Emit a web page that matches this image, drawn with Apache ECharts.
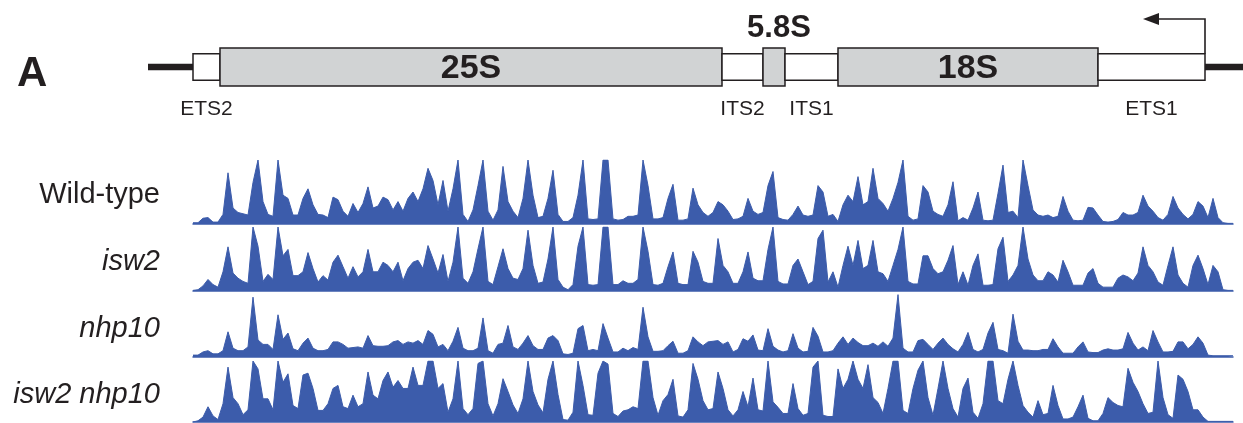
<!DOCTYPE html>
<html><head><meta charset="utf-8">
<script src="https://cdn.jsdelivr.net/npm/echarts@6/dist/echarts.min.js"></script>
<style>html,body{margin:0;padding:0;background:#fff}#c{width:1243px;height:423px}</style>
</head><body><div id="c"></div>
<script>
// ---- data (relative signal 0-100, 5-px bins) ----
const trackNames = ['Wild-type', 'isw2', 'nhp10', 'isw2 nhp10'];
const trackItalic = [false, true, true, true];

const wildType = [
2,2,9,10,3,3,15,80,25,18,
16,14,65,100,35,15,12,100,45,40,
14,14,40,55,30,15,14,10,42,38,
20,12,32,18,32,58,25,28,42,38,
22,35,20,40,50,35,55,87,68,30,
68,20,55,100,15,4,22,60,100,20,
6,22,90,35,20,10,40,100,45,10,
12,40,84,15,4,4,10,45,100,8,
7,8,100,100,8,6,7,12,12,14,
100,60,8,8,10,40,62,6,6,8,
56,30,18,12,18,35,30,20,7,8,
12,40,20,15,18,60,82,10,7,6,
15,28,14,12,14,60,50,12,15,4,
30,45,35,74,30,35,87,40,32,20,
40,65,100,12,6,8,60,50,20,15,
12,30,66,5,10,6,25,50,6,5,
6,48,92,18,20,10,100,60,22,14,
12,14,10,12,43,20,6,5,6,26,
25,14,4,3,4,7,18,14,14,18,
45,28,20,10,6,15,43,25,15,8,
15,35,28,10,40,10,2,1,1
];
const isw2 = [
1,2,8,18,10,6,30,69,28,20,
15,12,100,70,15,26,18,100,55,65,
24,24,30,60,35,14,24,17,45,56,
38,20,38,22,30,65,30,30,45,40,
30,45,16,35,45,48,35,71,50,28,
57,15,45,100,20,12,30,66,100,15,
10,38,66,35,20,18,35,95,40,12,
14,50,100,18,6,2,10,70,100,10,
9,10,100,100,10,10,16,12,12,18,
100,62,10,9,12,38,61,12,10,10,
62,45,15,12,12,82,40,30,12,12,
30,61,20,16,16,65,100,15,11,11,
40,50,30,10,15,82,95,14,30,6,
40,70,40,79,35,40,79,30,27,15,
40,65,100,15,11,11,55,55,35,27,
30,48,71,10,30,9,40,58,9,9,
10,66,84,15,25,40,100,50,25,16,
16,30,25,14,48,30,9,9,9,28,
35,12,6,6,6,20,25,22,16,28,
69,40,30,14,9,40,69,25,12,6,
40,56,35,10,40,30,2,1,1
];
const nhp10 = [
3,3,8,10,5,5,10,40,14,10,
10,16,95,27,20,20,12,67,28,38,
13,10,22,30,14,10,10,12,24,24,
20,14,15,16,14,34,18,17,17,18,
24,26,20,24,22,26,20,42,36,16,
20,10,25,47,14,10,10,14,62,10,
6,20,22,50,16,12,22,34,18,12,
12,30,34,26,5,4,6,45,50,10,
12,10,53,30,8,8,14,10,15,12,
79,32,9,9,10,18,25,6,6,10,
32,24,18,24,25,26,20,24,8,12,
29,25,35,11,10,45,17,11,8,10,
37,14,8,9,47,33,8,8,10,22,
32,20,30,23,18,18,22,17,24,17,
30,99,14,8,8,26,28,20,12,22,
30,20,13,8,20,39,12,8,12,38,
55,12,10,6,68,25,11,11,10,10,
12,12,29,16,6,6,6,16,24,8,
7,7,11,13,11,11,13,39,22,11,
16,10,42,24,8,8,9,24,24,13,
20,32,22,3,2,2,2,2,2
];
const isw2Nhp10 = [
0,2,8,25,10,4,30,90,40,30,
12,20,100,87,38,38,20,100,65,79,
27,22,77,80,55,19,19,30,55,60,
25,22,44,25,30,82,44,38,68,82,
57,68,55,55,90,60,60,100,100,55,
63,16,38,100,22,12,22,96,100,30,
10,30,71,50,28,14,38,100,50,28,
15,70,100,45,4,3,16,100,60,12,
11,80,100,95,14,9,18,20,25,22,
100,100,40,11,35,45,70,10,8,20,
96,70,35,20,22,82,55,20,10,20,
50,25,72,20,18,100,33,24,14,14,
63,22,11,14,90,100,11,9,9,87,
55,70,100,70,55,94,40,32,14,55,
100,100,19,14,55,85,100,40,11,55,
100,55,22,8,55,72,16,6,30,100,
100,35,30,70,100,60,27,16,8,35,
12,14,60,27,5,5,8,25,44,6,
2,2,14,40,32,27,25,88,65,50,
30,14,16,100,40,12,6,77,70,50,
20,20,8,1,1,1,1,1,1
];
const bins = wildType.map((_, i) => i);

// rDNA unit diagram, in bin units
const segStart = [-9, 0, 5.4, 105.8, 114, 118.4, 129, 181, 202.4];
const segEnd   = [0, 5.4, 105.8, 114, 118.4, 129, 181, 202.4, 210];
const segKind  = ['flank', 'spacer', 'gene', 'spacer', 'gene', 'spacer', 'gene', 'spacer', 'flank'];
const segLabel = ['', 'ETS2', '25S', 'ITS2', '5.8S', 'ITS1', '18S', 'ETS1', ''];
const panelLetter = 'A';

// ---- chart ----
const BLUE = '#3C5CAB';
const INK = '#231F20';
const FONT = '"Liberation Sans", Arial, Helvetica, sans-serif';
const tracks = [wildType, isw2, nhp10, isw2Nhp10];
const trackBox = [
  {top: 160, height: 64}, {top: 227, height: 64}, {top: 294, height: 63}, {top: 361, height: 61}
];

const grids = trackBox.map(b => ({left: 193, width: 1040, top: b.top, height: b.height}));
grids.push({left: 148, width: 1095, top: 48, height: 38});

const xAxes = tracks.map((_, i) => ({
  gridIndex: i, type: 'category', data: bins, boundaryGap: false,
  axisLine: {show: true, lineStyle: {color: BLUE, width: 1.5}},
  axisTick: {show: false}, axisLabel: {show: false}, splitLine: {show: false}
}));
xAxes.push({gridIndex: 4, type: 'value', min: -9, max: 210, show: false});
const yAxes = tracks.map((_, i) => ({gridIndex: i, type: 'value', min: 0, max: 100, show: false}));
yAxes.push({gridIndex: 4, type: 'value', min: -1, max: 1, show: false});

const series = tracks.map((d, i) => ({
  type: 'line', xAxisIndex: i, yAxisIndex: i, data: d, symbol: 'none', showSymbol: false,
  lineStyle: {color: BLUE, width: 1}, areaStyle: {color: BLUE, opacity: 1},
  itemStyle: {color: BLUE}, silent: true, animation: false
}));

series.push({
  type: 'custom', xAxisIndex: 4, yAxisIndex: 4, clip: false, silent: true, animation: false,
  data: segStart.map((s, i) => [s, segEnd[i], i]),
  encode: {x: [0, 1]},
  renderItem: function (params, api) {
    const idx = api.value(2);
    const kind = segKind[idx], lab = segLabel[idx];
    const p0 = api.coord([api.value(0), 0]);
    const p1 = api.coord([api.value(1), 0]);
    const unit = api.size([0, 1])[1];
    const cy = p0[1];
    const half = kind === 'gene' ? unit : kind === 'spacer' ? unit * 0.7 : unit * 0.17;
    const children = [{
      type: 'rect',
      shape: {x: p0[0], y: cy - half, width: p1[0] - p0[0], height: 2 * half},
      style: kind === 'flank' ? {fill: INK} : {fill: kind === 'gene' ? '#D1D3D4' : '#FFFFFF', stroke: INK, lineWidth: 1.5}
    }];
    const cx = (p0[0] + p1[0]) / 2;
    if (lab) {
      if (kind === 'gene') {
        const small = (p1[0] - p0[0]) < 40;
        children.push({
          type: 'text', z2: 10,
          style: {text: lab, x: cx + (small ? 5 : 0), y: small ? cy - unit - 20 : cy + 2, align: 'center', verticalAlign: 'middle',
                  font: 'bold ' + (small ? 31 : 34) + 'px ' + FONT, fill: INK}
        });
      } else {
        children.push({
          type: 'text', z2: 10,
          style: {text: lab, x: cx, y: cy + 42, align: 'center', verticalAlign: 'middle',
                  font: '21px ' + FONT, fill: INK}
        });
      }
    }
    if (idx === segKind.length - 2) { // transcription start arrow at ETS1 end
      const top = cy - unit - 29;
      children.push({type: 'polyline', shape: {points: [[p1[0], cy - half], [p1[0], top], [p1[0] - 48, top]]},
                     style: {stroke: INK, lineWidth: 1.6, fill: null}});
      children.push({type: 'polygon', shape: {points: [[p1[0] - 62, top], [p1[0] - 46, top - 6], [p1[0] - 46, top + 6]]},
                     style: {fill: INK}});
    }
    return {type: 'group', children: children};
  }
});

const graphics = trackNames.map((n, i) => ({
  type: 'text',
  x: 160, y: trackBox[i].top + trackBox[i].height * 0.55,
  style: {text: n, align: 'right', verticalAlign: 'middle',
          font: (trackItalic[i] ? 'italic ' : '') + '29px ' + FONT, fill: INK}
}));
graphics.push({type: 'text', x: 17, y: 74, style: {text: panelLetter, verticalAlign: 'middle', font: 'bold 42px ' + FONT, fill: INK}});

const chart = echarts.init(document.getElementById('c'), null, {renderer: 'canvas'});
chart.setOption({
  animation: false,
  backgroundColor: '#fff',
  grid: grids, xAxis: xAxes, yAxis: yAxes, series: series, graphic: graphics
});
</script></body></html>
